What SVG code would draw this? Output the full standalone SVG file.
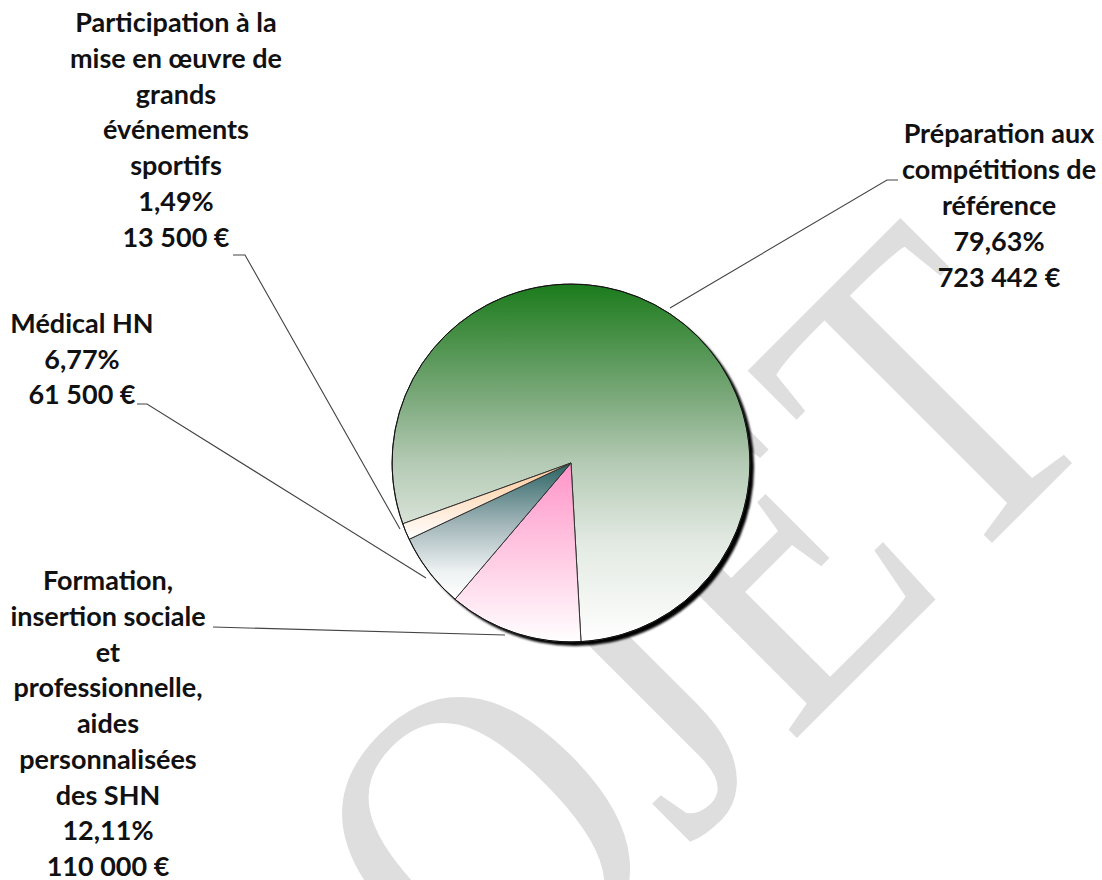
<svg xmlns="http://www.w3.org/2000/svg" width="1102" height="880" viewBox="0 0 1102 880">
<style>
.lbl{font-family:Lato,"Liberation Sans",sans-serif;font-weight:700;font-size:27px;fill:#111;text-anchor:middle}
.lead{fill:none;stroke:#444;stroke-width:1.1}
.sl{stroke:#333;stroke-width:1;stroke-linejoin:round}
.wm{font-family:"Liberation Serif",serif;font-size:450px;fill:#dedede}
</style>
<defs>
<linearGradient id="gGreen" x1="0" y1="0" x2="0" y2="1">
<stop offset="0" stop-color="#1b7b1b"/>
<stop offset="0.3" stop-color="#76a676"/>
<stop offset="0.5" stop-color="#b4cab4"/>
<stop offset="0.72" stop-color="#e2e9e2"/>
<stop offset="1" stop-color="#ffffff"/>
</linearGradient>
<linearGradient id="gPink" x1="0" y1="0" x2="0" y2="1">
<stop offset="0" stop-color="#ff94c8"/>
<stop offset="0.5" stop-color="#ffc8e2"/>
<stop offset="1" stop-color="#ffffff"/>
</linearGradient>
<linearGradient id="gTeal" x1="0" y1="0" x2="0" y2="1">
<stop offset="0" stop-color="#2a6262"/>
<stop offset="0.45" stop-color="#a3b6ba"/>
<stop offset="0.8" stop-color="#eef2f2"/>
<stop offset="1" stop-color="#ffffff"/>
</linearGradient>
<linearGradient id="gPeach" x1="0" y1="0" x2="0" y2="1">
<stop offset="0" stop-color="#ffc896"/>
<stop offset="1" stop-color="#ffffff"/>
</linearGradient>
<filter id="blur" x="-10%" y="-10%" width="120%" height="120%">
<feGaussianBlur stdDeviation="1"/>
</filter>
</defs>
<rect width="1102" height="880" fill="#ffffff"/>
<text class="wm" transform="translate(170.5,1364.5) rotate(-45) scale(0.833,1)">PROJET</text>
<g id="connectors">
<polyline class="lead" points="670,308 887,180 898,180"/>
<polyline class="lead" points="233,255 245,255 400,529"/>
<polyline class="lead" points="137,404 147,404 426,578"/>
<polyline class="lead" points="213,627 505,635"/>
</g>
<g id="pie">
<circle cx="575" cy="467" r="179" fill="#000" filter="url(#blur)"/>
<g id="slice-preparation"><path class="sl" fill="url(#gGreen)" d="M571,463 L402.7,523.8 A179,179 0 1 1 581,641.7 Z"/></g>
<g id="slice-formation"><path class="sl" fill="url(#gPink)" d="M571,463 L581,641.7 A179,179 0 0 1 455,599.3 Z"/></g>
<g id="slice-medical"><path class="sl" fill="url(#gTeal)" d="M571,463 L455,599.3 A179,179 0 0 1 409.1,539.3 Z"/></g>
<g id="slice-participation"><path class="sl" fill="url(#gPeach)" d="M571,463 L409.1,539.3 A179,179 0 0 1 402.7,523.8 Z"/></g>
<circle cx="571" cy="463" r="179" fill="none" stroke="#111" stroke-width="1"/>
</g>
<g id="label-preparation">
<text class="lbl" x="999" y="143">Préparation aux</text>
<text class="lbl" x="999" y="179">compétitions de</text>
<text class="lbl" x="999" y="215">référence</text>
<text class="lbl" x="999" y="251">79,63%</text>
<text class="lbl" x="999" y="287">723 442 €</text>
</g>
<g id="label-participation">
<text class="lbl" x="176" y="32">Participation à la</text>
<text class="lbl" x="176" y="68">mise en œuvre de</text>
<text class="lbl" x="176" y="104">grands</text>
<text class="lbl" x="176" y="139">événements</text>
<text class="lbl" x="176" y="175">sportifs</text>
<text class="lbl" x="176" y="211">1,49%</text>
<text class="lbl" x="176" y="247">13 500 €</text>
</g>
<g id="label-medical">
<text class="lbl" x="82" y="333">Médical HN</text>
<text class="lbl" x="82" y="369">6,77%</text>
<text class="lbl" x="82" y="404">61 500 €</text>
</g>
<g id="label-formation">
<text class="lbl" x="108" y="590">Formation,</text>
<text class="lbl" x="108" y="626">insertion sociale</text>
<text class="lbl" x="108" y="662">et</text>
<text class="lbl" x="108" y="697">professionnelle,</text>
<text class="lbl" x="108" y="733">aides</text>
<text class="lbl" x="108" y="769">personnalisées</text>
<text class="lbl" x="108" y="805">des SHN</text>
<text class="lbl" x="108" y="840">12,11%</text>
<text class="lbl" x="108" y="876">110 000 €</text>
</g>
</svg>
